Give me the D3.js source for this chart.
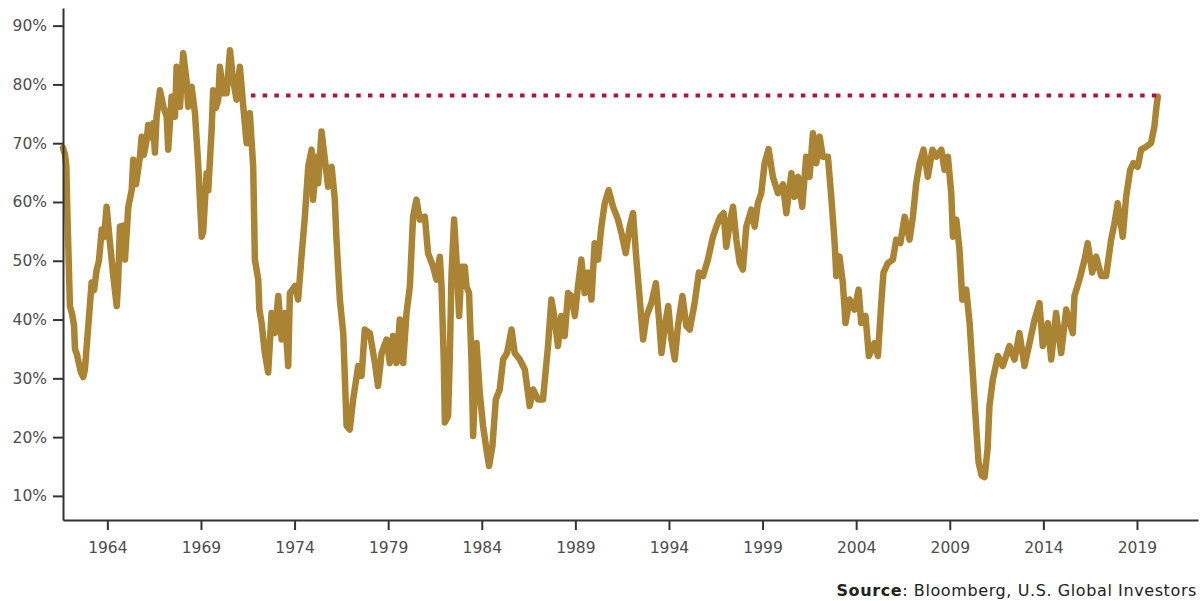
<!DOCTYPE html>
<html>
<head>
<meta charset="utf-8">
<script src="https://cdnjs.cloudflare.com/ajax/libs/d3/7.8.5/d3.min.js"></script>
<style>
  body { margin: 0; background: #fff; }
  svg text { font-family: "DejaVu Sans", Roboto, sans-serif; }
</style>
</head>
<body>
<script>

// decimal years and values (%)
var years = [
  1961.63, 1961.74, 1961.81, 1961.84, 1962.00, 1962.11, 1962.22, 1962.27, 1962.38, 1962.48,
  1962.59, 1962.71, 1962.80, 1962.98, 1963.16, 1963.29, 1963.43, 1963.55, 1963.70, 1963.82,
  1963.96, 1964.14, 1964.32, 1964.50, 1964.57, 1964.67, 1964.85, 1964.94, 1965.12, 1965.30,
  1965.38, 1965.53, 1965.74, 1965.83, 1965.95, 1966.10, 1966.18, 1966.33, 1966.45, 1966.54,
  1966.63, 1966.81, 1966.99, 1967.17, 1967.25, 1967.43, 1967.61, 1967.70, 1967.88, 1968.05,
  1968.23, 1968.32, 1968.50, 1968.68, 1968.85, 1969.04, 1969.12, 1969.30, 1969.39, 1969.57,
  1969.65, 1969.80, 1969.92, 1970.01, 1970.19, 1970.37, 1970.55, 1970.72, 1970.90, 1971.08,
  1971.26, 1971.44, 1971.61, 1971.79, 1971.88, 1972.06, 1972.12, 1972.24, 1972.41, 1972.59,
  1972.77, 1972.95, 1973.13, 1973.31, 1973.48, 1973.66, 1973.75, 1974.02, 1974.19, 1974.37,
  1974.55, 1974.73, 1974.91, 1974.99, 1975.18, 1975.26, 1975.44, 1975.62, 1975.79, 1975.98,
  1976.15, 1976.24, 1976.42, 1976.60, 1976.69, 1976.78, 1976.95, 1977.13, 1977.40, 1977.58,
  1977.75, 1978.02, 1978.29, 1978.46, 1978.65, 1978.91, 1979.09, 1979.26, 1979.45, 1979.62,
  1979.80, 1979.98, 1980.16, 1980.33, 1980.51, 1980.69, 1980.96, 1981.13, 1981.40, 1981.58,
  1981.76, 1981.85, 1981.97, 1982.03, 1982.20, 1982.29, 1982.38, 1982.52, 1982.65, 1982.79,
  1982.92, 1983.09, 1983.18, 1983.32, 1983.45, 1983.54, 1983.72, 1983.89, 1984.07, 1984.25,
  1984.39, 1984.57, 1984.75, 1984.96, 1985.14, 1985.35, 1985.59, 1985.76, 1986.03, 1986.30,
  1986.56, 1986.74, 1987.01, 1987.27, 1987.54, 1987.72, 1987.90, 1988.07, 1988.25, 1988.43,
  1988.61, 1988.79, 1988.97, 1989.14, 1989.32, 1989.50, 1989.68, 1989.86, 1990.03, 1990.21,
  1990.39, 1990.57, 1990.78, 1991.01, 1991.28, 1991.46, 1991.69, 1991.90, 1992.08, 1992.26,
  1992.44, 1992.62, 1992.80, 1993.06, 1993.30, 1993.47, 1993.60, 1993.78, 1993.96, 1994.13,
  1994.31, 1994.48, 1994.72, 1994.93, 1995.11, 1995.37, 1995.60, 1995.82, 1996.08, 1996.35,
  1996.53, 1996.74, 1996.92, 1997.06, 1997.28, 1997.42, 1997.60, 1997.78, 1997.95, 1998.13,
  1998.40, 1998.58, 1998.75, 1998.93, 1999.11, 1999.32, 1999.55, 1999.82, 2000.09, 2000.27,
  2000.54, 2000.71, 2000.89, 2001.12, 2001.33, 2001.51, 2001.69, 2001.87, 2002.05, 2002.22,
  2002.49, 2002.67, 2002.85, 2002.94, 2003.11, 2003.29, 2003.43, 2003.65, 2003.91, 2004.13,
  2004.27, 2004.50, 2004.68, 2004.98, 2005.16, 2005.34, 2005.46, 2005.69, 2005.96, 2006.14,
  2006.36, 2006.59, 2006.85, 2007.03, 2007.21, 2007.39, 2007.60, 2007.83, 2008.07, 2008.28,
  2008.55, 2008.72, 2008.90, 2009.08, 2009.17, 2009.35, 2009.52, 2009.67, 2009.88, 2010.06,
  2010.24, 2010.42, 2010.54, 2010.70, 2010.86, 2011.02, 2011.12, 2011.30, 2011.57, 2011.83,
  2012.19, 2012.46, 2012.72, 2012.99, 2013.26, 2013.53, 2013.79, 2013.97, 2014.24, 2014.42,
  2014.68, 2014.95, 2015.22, 2015.57, 2015.66, 2015.93, 2016.20, 2016.37, 2016.61, 2016.82,
  2017.09, 2017.35, 2017.62, 2017.80, 2017.97, 2018.24, 2018.42, 2018.64, 2018.81, 2019.04,
  2019.22, 2019.49, 2019.75, 2019.93, 2020.02, 2020.11
];

var values = [
  69.2, 68.0, 66.0, 61.0, 42.3, 41.0, 39.0, 35.0, 34.0, 32.5,
  31.0, 30.2, 31.5, 38.9, 46.3, 45.0, 48.5, 50.0, 55.3, 54.0,
  59.2, 53.0, 47.3, 42.3, 46.0, 55.8, 56.0, 50.2, 59.2, 62.0,
  67.2, 63.0, 67.7, 71.1, 68.0, 70.6, 73.1, 71.0, 73.4, 68.4,
  74.5, 79.0, 76.2, 74.5, 68.9, 77.9, 74.5, 83.0, 76.2, 85.3,
  80.7, 76.2, 79.6, 75.1, 66.6, 54.1, 55.0, 64.9, 62.0, 72.3,
  79.0, 76.0, 77.4, 83.0, 78.5, 78.5, 85.8, 80.7, 77.4, 83.0,
  76.2, 70.0, 75.1, 66.0, 50.2, 46.8, 41.7, 39.4, 34.3, 31.0,
  41.1, 37.7, 44.0, 36.6, 41.1, 32.1, 44.5, 45.7, 43.4, 50.7,
  57.5, 66.0, 68.9, 60.4, 67.7, 63.2, 72.0, 67.2, 62.6, 66.0,
  60.4, 53.6, 43.4, 37.7, 29.8, 21.9, 21.3, 26.4, 32.1, 30.4,
  38.3, 37.7, 32.6, 28.7, 34.3, 36.6, 32.6, 37.2, 32.6, 40.0,
  32.6, 41.1, 45.7, 57.5, 60.4, 57.0, 57.5, 51.3, 49.0, 46.8,
  50.7, 45.7, 33.2, 22.5, 23.6, 33.2, 47.4, 57.0, 50.2, 40.6,
  49.0, 49.0, 45.7, 44.5, 33.2, 20.2, 36.0, 27.6, 21.9, 17.9,
  15.1, 18.5, 26.4, 28.1, 33.2, 34.3, 38.3, 34.3, 33.2, 31.5,
  25.3, 28.1, 26.4, 26.4, 35.5, 43.4, 40.0, 35.5, 40.6, 37.2,
  44.5, 44.0, 40.6, 45.7, 50.2, 44.5, 48.0, 43.4, 53.0, 50.2,
  55.8, 59.8, 62.0, 59.2, 57.0, 54.7, 51.3, 55.8, 58.1, 50.2,
  43.4, 36.6, 40.6, 42.8, 46.2, 40.0, 34.3, 38.9, 42.3, 36.6,
  33.2, 38.9, 44.0, 38.9, 38.3, 42.8, 48.0, 47.4, 50.2, 54.1,
  55.8, 57.5, 58.1, 52.4, 57.0, 59.2, 53.6, 49.6, 48.5, 55.8,
  58.7, 55.8, 59.8, 61.5, 66.6, 69.0, 64.3, 61.5, 63.0, 58.1,
  64.9, 60.9, 64.3, 59.2, 67.7, 64.3, 71.7, 66.6, 71.1, 67.7,
  67.7, 60.9, 53.0, 47.4, 50.7, 46.2, 39.4, 43.4, 41.7, 45.1,
  39.4, 40.6, 33.8, 36.0, 33.8, 42.8, 48.0, 49.6, 50.2, 53.6,
  53.0, 57.5, 53.6, 57.5, 63.2, 66.6, 68.9, 64.3, 68.9, 67.7,
  68.9, 65.5, 67.7, 61.5, 54.1, 57.0, 51.9, 43.4, 45.1, 39.4,
  30.4, 21.3, 15.7, 13.5, 13.2, 18.0, 25.3, 29.8, 33.8, 32.1,
  35.5, 33.2, 37.7, 32.1, 36.0, 40.0, 42.8, 35.5, 39.4, 33.2,
  41.1, 34.3, 41.7, 37.7, 44.0, 46.8, 50.2, 53.0, 48.0, 50.7,
  47.4, 47.4, 53.6, 56.4, 59.8, 54.1, 60.9, 65.5, 66.6, 66.0,
  68.9, 69.4, 70.0, 72.8, 75.6, 77.9
];

// tick labels
var yearTicks = [1964, 1969, 1974, 1979, 1984, 1989, 1994, 1999, 2004, 2009, 2014, 2019];
var pctTicks = [10, 20, 30, 40, 50, 60, 70, 80, 90];

// dotted reference level (current reading, drawn back to 1971)
var refLevel = 78.1;
var refYears = [1971.67, 2020.04];

var w = 1203;
var h = 601;

var svg = d3.select("body").append("svg")
    .attr("width", w)
    .attr("height", h);

// scales
var x = d3.scaleLinear()
    .domain([1961.63, 2022.26])
    .range([63, 1198]);

var y = d3.scaleLinear()
    .domain([5.9, 93])
    .range([520, 8]);

var data = years.map(function(d, i) {
    return { year: d, value: values[i] };
});

// line
var line = d3.line()
    .x(function(d) { return x(d.year); })
    .y(function(d) { return y(d.value); });

svg.append("path")
    .datum(data)
    .attr("fill", "none")
    .attr("stroke", "#aa8433")
    .attr("stroke-width", 6.5)
    .attr("stroke-linejoin", "round")
    .attr("stroke-linecap", "round")
    .attr("d", line);

// red dotted line
svg.append("line")
    .attr("x1", x(refYears[0]))
    .attr("x2", x(refYears[1]))
    .attr("y1", y(refLevel))
    .attr("y2", y(refLevel))
    .attr("stroke", "#b3123f")
    .attr("stroke-width", 4)
    .attr("stroke-dasharray", "4.5,7.2");

// axes
var yAxis = d3.axisLeft(y)
    .tickValues(pctTicks)
    .tickSize(10)
    .tickSizeOuter(0)
    .tickPadding(6)
    .tickFormat(function(d) { return d + "%"; });

var xAxis = d3.axisBottom(x)
    .tickValues(yearTicks)
    .tickSize(10)
    .tickSizeOuter(0)
    .tickPadding(12)
    .tickFormat(d3.format("d"));

var gy = svg.append("g")
    .attr("transform", "translate(63,0)")
    .call(yAxis);

var gx = svg.append("g")
    .attr("transform", "translate(0,520)")
    .call(xAxis);

[gx, gy].forEach(function(g) {
    g.select(".domain").attr("stroke", "#333").attr("stroke-width", 2);
    g.selectAll(".tick line").attr("stroke", "#333").attr("stroke-width", 2);
    g.selectAll(".tick text")
        .attr("fill", "#4d4d4d")
        .style("font-family", "'DejaVu Sans', sans-serif")
        .style("font-size", "15.5px");
});

// source note
var src = svg.append("text")
    .attr("x", 1197)
    .attr("y", 596)
    .attr("text-anchor", "end")
    .style("font-size", "16px")
    .style("letter-spacing", "0.6px")
    .attr("fill", "#222");

src.append("tspan").style("font-weight", "bold").text("Source");
src.append("tspan").text(": Bloomberg, U.S. Global Investors");

</script>
</body>
</html>
